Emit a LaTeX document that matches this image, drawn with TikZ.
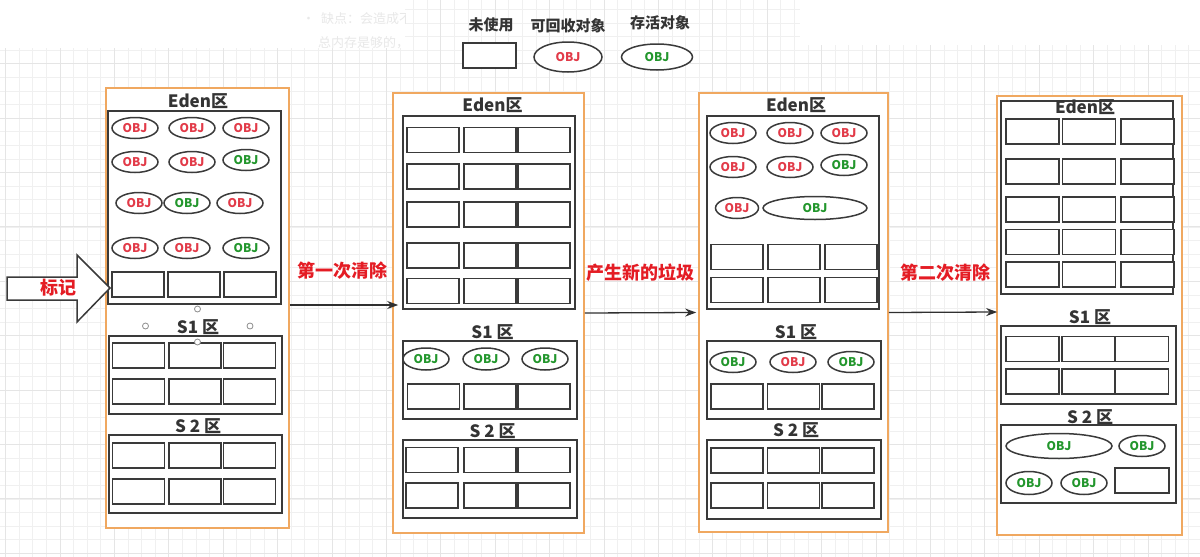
\documentclass[tikz,border=0pt]{standalone}
\usepackage{fontspec}
\setmainfont{Noto Sans CJK SC}
\usepackage{tikz}
\usetikzlibrary{arrows.meta,shapes.geometric,positioning}
\definecolor{panelorange}{RGB}{240,168,96}
\definecolor{boxgray}{RGB}{58,58,58}
\definecolor{textgray}{RGB}{52,52,52}
\definecolor{objred}{RGB}{226,58,72}
\definecolor{objgreen}{RGB}{34,150,44}
\definecolor{labelred}{RGB}{228,28,36}
\definecolor{arrowgray}{RGB}{48,48,48}
\tikzstyle{gridminor}=[draw=black!6,line width=0.6pt]
\tikzstyle{gridmajor}=[draw=black!10,line width=0.8pt]
\tikzstyle{panel}=[rectangle,draw=panelorange,line width=1.6pt,fill=white,inner sep=0pt]
\tikzstyle{zone}=[draw=boxgray,line width=1.8pt]
\tikzstyle{cell}=[rectangle,draw=boxgray,line width=1.9pt,fill=white,minimum width=52pt,minimum height=25pt,inner sep=0pt]
\tikzstyle{obj}=[ellipse,draw=boxgray,line width=1.5pt,fill=white,minimum width=46pt,minimum height=21pt,inner sep=0pt,font=\bfseries\fontsize{12}{12}\selectfont]
\tikzstyle{dead}=[obj,text=objred]
\tikzstyle{live}=[obj,text=objgreen]
\tikzstyle{zonetitle}=[font=\bfseries\fontsize{17}{17}\selectfont,text=textgray,inner sep=0pt]
\tikzstyle{legtext}=[font=\bfseries\fontsize{15}{15}\selectfont,text=textgray,inner sep=0pt]
\tikzstyle{gc}=[font=\bfseries\fontsize{18}{18}\selectfont,text=labelred,inner sep=0pt]
\tikzstyle{faint}=[font=\fontsize{13}{13}\selectfont,text=black!9,inner sep=0pt,anchor=west]
\tikzstyle{arrow}=[-{Stealth[length=11pt,width=8pt]},line width=1.3pt,draw=arrowgray]
\tikzstyle{handle}=[circle,draw=black!45,fill=white,line width=0.8pt,minimum size=6pt,inner sep=0pt]
\begin{document}
\begin{tikzpicture}[x=1pt,y=-1pt]
        \useasboundingbox (0,0) rectangle (1200,557);
        % grid of the canvas
        \foreach \x in {5.5,19.1,...,1200} \draw[gridminor] (\x,0) -- (\x,557);
        \foreach \y in {9.2,22.8,...,557} \draw[gridminor] (0,\y) -- (1200,\y);
        \foreach \x in {5.5,59.9,...,1200} \draw[gridmajor] (\x,0) -- (\x,557);
        \foreach \y in {63.6,118,...,557} \draw[gridmajor] (0,\y) -- (1200,\y);
        \fill[white] (0,0) rectangle (405,48);
        \fill[white] (800,0) rectangle (1200,45);
        \begin{scope}
            \clip (0,0) rectangle (405,557);
            \node[faint] (note1) at (302,19) {•\ \ 缺点：会造成不连续};
            \node[faint] (note2) at (318,43) {总内存是够的，};
        \end{scope}

        % legend
        \node[legtext] (unused) at (491,25) {未使用};
        \node[legtext] (garbage) at (568,26) {可回收对象};
        \node[legtext] (alive) at (660,23) {存活对象};
        \node[cell,minimum width=53pt] (legcell) at (489.5,55.5) {};
        \node[dead,minimum width=68pt,minimum height=30pt] (legdead) at (568,57) {OBJ};
        \node[live,minimum width=71pt,minimum height=26pt] (leglive) at (657,57) {OBJ};

        % the four heaps
        \node[panel,minimum width=183pt,minimum height=440pt] (p1) at (197.5,308) {};
        \node[panel,minimum width=191pt,minimum height=440pt] (p2) at (488.5,313) {};
        \node[panel,minimum width=189pt,minimum height=439pt] (p3) at (793.5,312.5) {};
        \node[panel,minimum width=185pt,minimum height=439pt] (p4) at (1089.5,315.5) {};

        \draw[zone] (108,111) rectangle (281,304);
        \draw[zone] (109,336) rectangle (282,414);
        \draw[zone] (109,435) rectangle (282,513);
        \draw[zone] (403,116) rectangle (575,309);
        \draw[zone] (403,341) rectangle (577,419);
        \draw[zone] (403,440) rectangle (577,518);
        \draw[zone] (707,116) rectangle (879,309);
        \draw[zone] (707,341) rectangle (881,419);
        \draw[zone] (707,440) rectangle (881,519);
        \draw[zone] (1001,101) rectangle (1173,294);
        \draw[zone] (1001,326) rectangle (1176,404);
        \draw[zone] (1001,425) rectangle (1176,503);

        \node[zonetitle] (eden1) at (198,101) {Eden区};
        \node[zonetitle] (sa1) at (198,327) {S1 区};
        \node[zonetitle] (sb1) at (198,426) {S 2 区};
        \node[zonetitle] (eden2) at (492.5,105) {Eden区};
        \node[zonetitle] (sa2) at (492.5,332) {S1 区};
        \node[zonetitle] (sb2) at (492.5,431) {S 2 区};
        \node[zonetitle] (eden3) at (796,105) {Eden区};
        \node[zonetitle] (sa3) at (796,332) {S1 区};
        \node[zonetitle] (sb3) at (796,430) {S 2 区};
        \node[zonetitle] (eden4) at (1085,107) {Eden区};
        \node[zonetitle] (sa4) at (1090,317) {S1 区};
        \node[zonetitle] (sb4) at (1090,417) {S 2 区};

        % heap 1: marked
        \foreach \x/\y/\k [count=\i] in {135/128/dead,192/128/dead,246/128/dead,
                135/162/dead,192/162/dead,246/160/live,139/203/dead,187/203/live,
                240/203/dead,135/248/dead,187/248/dead,246/248/live}
            \node[\k] (o1-\i) at (\x,\y) {OBJ};
        \foreach \x [count=\c] in {138,194,250}
            \node[cell] (e1-\c) at (\x,284.5) {};
        \foreach \y [count=\r] in {355.5,391.5}
            \foreach \x [count=\c] in {138.5,195,249.5} {
                \node[cell] (a1-\r-\c) at (\x,\y) {};
                \node[cell] (b1-\r-\c) at (\x,\y+100) {};
            }

        % heap 2: after first sweep
        \foreach \y [count=\r] in {140,176.5,214.5,255.5,291}
            \foreach \x [count=\c] in {433,490,544}
                \node[cell] (e2-\r-\c) at (\x,\y) {};
        \foreach \x [count=\c] in {426,486,545}
            \node[live,minimum height=22pt] (o2-\c) at (\x,359) {OBJ};
        \foreach \x [count=\c] in {433.5,490,544}
            \node[cell] (a2-\c) at (\x,396.5) {};
        \foreach \y [count=\r] in {460,495.5}
            \foreach \x [count=\c] in {432,490,544}
                \node[cell] (b2-\r-\c) at (\x,\y) {};

        % heap 3: new garbage
        \foreach \x/\y/\k [count=\i] in {733/133/dead,790/133/dead,844/133/dead,
                733/167/dead,790/167/dead,844/165/live}
            \node[\k] (o3-\i) at (\x,\y) {OBJ};
        \node[dead,minimum width=43pt] (o3-7) at (737,208) {OBJ};
        \node[live,minimum width=104pt,minimum height=23pt] (o3-8) at (815,208) {OBJ};
        \foreach \y [count=\r] in {257,290}
            \foreach \x [count=\c] in {737,794,851}
                \node[cell] (e3-\r-\c) at (\x,\y) {};
        \foreach \x/\k [count=\c] in {733/live,793/dead,851/live}
            \node[\k] (q3-\c) at (\x,362) {OBJ};
        \foreach \x [count=\c] in {737,793.5,848} {
            \node[cell] (a3-\c) at (\x,396.5) {};
            \node[cell] (b3-1-\c) at (\x,460.5) {};
            \node[cell] (b3-2-\c) at (\x,495.5) {};
        }

        % heap 4: after second sweep
        \foreach \y [count=\r] in {131.5,171.5,209.5,242,274.5}
            \foreach \x [count=\c] in {1032.5,1089,1147.5}
                \node[cell,minimum width=53pt] (e4-\r-\c) at (\x,\y) {};
        \foreach \y [count=\r] in {349,381.5}
            \foreach \x [count=\c] in {1032.5,1088.5,1142}
                \node[cell,minimum width=53pt] (a4-\r-\c) at (\x,\y) {};
        \node[live,minimum width=106pt,minimum height=25pt] (o4-1) at (1059,446) {OBJ};
        \node[live] (o4-2) at (1142,446) {OBJ};
        \node[live,minimum height=23pt] (o4-3) at (1029,483) {OBJ};
        \node[live,minimum height=23pt] (o4-4) at (1084,483) {OBJ};
        \node[cell,minimum width=54pt] (b4) at (1142,480.5) {};

        % steps between the heaps
        \node[gc] (sweep1) at (342.5,271) {第一次清除};
        \node[gc] (newgarbage) at (640,273) {产生新的垃圾};
        \node[gc] (sweep2) at (945,273) {第二次清除};
        \draw[arrow] ([yshift=3pt]p1.east) -- ([xshift=6pt,yshift=8pt]p2.west);
        \draw[arrow] (p2.east) -- ([xshift=-2pt]p3.west);
        \draw[arrow] (p3.east) -- ([xshift=1pt,yshift=3.5pt]p4.west);

        % mark pointer
        \draw[draw=boxgray,line width=1.5pt,fill=white,line join=miter]
            (7,277) -- (77,277) -- (77,255) -- (110,288) -- (77,322) -- (77,300) -- (7,300) -- cycle;
        \node[gc] (mark) at (58,288) {标记};

        \node[handle] (h1) at (197.5,309) {};
        \node[handle] (h2) at (145.5,326) {};
        \node[handle] (h3) at (250,326) {};
        \node[handle] (h4) at (197.5,342) {};
\end{tikzpicture}
\end{document}
